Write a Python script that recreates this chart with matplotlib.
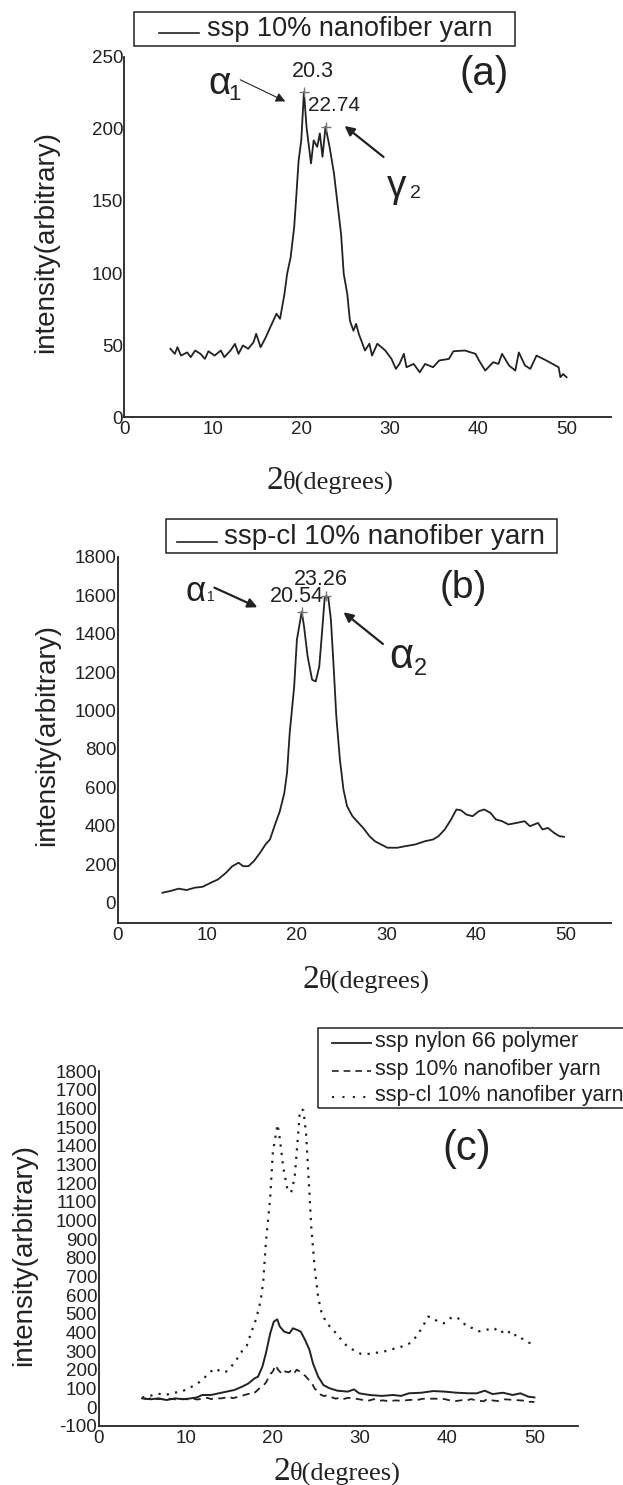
import numpy as np
import matplotlib.pyplot as plt
from matplotlib.lines import Line2D
from matplotlib.patches import Rectangle

plt.rcParams['font.family'] = ['Liberation Sans', 'DejaVu Sans']
plt.rcParams['axes.unicode_minus'] = False

# --- data ---
# (a) ssp 10% nanofiber yarn
a_x = [5.2, 5.7, 6.0, 6.4, 7.1, 7.5, 8.0, 8.6, 9.1, 9.5, 10.2, 10.9, 11.3, 12.0, 12.5,
       12.9, 13.4, 14.0, 14.6, 14.9, 15.4, 16.0, 16.5, 17.2, 17.6, 18.1, 18.4, 18.8,
       19.2, 19.4, 19.7, 20.0, 20.3, 20.6, 21.1, 21.4, 21.8, 22.1, 22.4, 22.74, 23.2,
       23.7, 24.1, 24.5, 24.8, 25.2, 25.5, 25.9, 26.2, 26.5, 26.8, 27.2, 27.7, 28.0,
       28.6, 29.5, 30.2, 30.7, 31.1, 31.6, 31.9, 32.7, 33.4, 34.0, 34.9, 35.6, 36.7,
       37.2, 38.5, 39.7, 40.1, 40.8, 41.7, 42.3, 42.7, 43.5, 44.2, 44.6, 45.3, 45.9,
       46.6, 47.7, 49.1, 49.3, 49.6, 50.0]
a_y = [47.5, 44, 48.6, 42.8, 45, 41.7, 46.3, 44, 40.5, 45.8, 42.8, 46.3, 41.7, 46.3, 50.9,
       44, 49.8, 47.5, 52, 57.9, 48.6, 55.6, 62.5, 71.8, 68.3, 85.6, 99.5, 111,
       132, 150, 178, 192, 225.5, 201, 176, 192, 187.5, 196.8, 180.6, 201.5, 187.5,
       169, 148, 127, 99.5, 85.6, 67, 60, 64.8, 57.9, 53, 46.3, 51, 42.8,
       51, 46.3, 40.5, 33.6, 37, 44, 34.7, 37, 31.2, 37, 34.7, 39.4, 40.5,
       45.8, 46.3, 44, 39.4, 32.4, 38.2, 37, 44, 35.9, 32.4, 45, 35.9, 33.6,
       42.8, 39.4, 34.7, 27.8, 30, 27.8]

# (b) ssp-cl 10% nanofiber yarn
b_x = [5.0, 5.9, 6.8, 7.7, 8.6, 9.5, 10.4, 11.2, 12.1, 12.8, 13.5, 14.0, 14.6, 15.2, 15.9,
       16.5, 17.0, 17.5, 18.1, 18.6, 18.9, 19.2, 19.7, 20.0, 20.54, 20.8, 21.2, 21.7,
       22.1, 22.5, 22.8, 23.1, 23.26, 23.5, 23.8, 24.1, 24.4, 24.8, 25.2, 25.6, 26.2,
       26.7, 27.4, 28.1, 28.7, 29.4, 30.1, 31.2, 32.1, 33.2, 34.3, 35.2, 35.8, 36.5,
       37.2, 37.8, 38.3, 38.9, 39.6, 40.3, 40.9, 41.6, 42.2, 42.9, 43.6, 44.5, 45.4,
       46.0, 46.9, 47.4, 48.0, 48.7, 49.3, 49.8]
b_y = [52, 61, 73, 66, 78, 83, 104, 121, 156, 190, 208, 190, 190, 216, 260,
       303, 329, 398, 476, 571, 675, 883, 1125, 1367, 1514, 1437, 1281, 1160,
       1151, 1229, 1402, 1584, 1595, 1590, 1471, 1229, 969, 744, 588, 502, 450,
       424, 389, 346, 320, 303, 286, 286, 294, 303, 320, 329, 346, 381,
       433, 485, 481, 459, 450, 476, 485, 467, 433, 424, 407, 415, 424,
       398, 415, 381, 389, 363, 346, 343]

# (c) ssp nylon 66 polymer
c_x = [5.0, 6.0, 6.9, 7.8, 8.8, 9.7, 10.6, 11.3, 11.9, 12.9, 13.8, 14.7, 15.6, 16.5, 17.2,
       17.9, 18.3, 18.8, 19.2, 19.7, 20.1, 20.5, 20.8, 21.3, 21.9, 22.3, 22.8, 23.2,
       23.7, 24.2, 24.6, 25.2, 25.8, 26.5, 27.4, 28.6, 29.3, 29.9, 31.1, 32.5, 33.8,
       34.7, 35.6, 37.0, 38.4, 39.7, 41.1, 42.5, 43.4, 44.3, 45.2, 46.4, 47.5, 48.4,
       49.3, 50.0]
c_y = [48, 43, 48, 39, 48, 43, 48, 53, 66, 66, 75, 84, 93, 111, 128,
       155, 164, 218, 289, 396, 458, 471, 432, 405, 396, 423, 414, 405,
       360, 307, 235, 164, 119, 102, 89, 84, 96, 75, 66, 61, 66,
       61, 75, 78, 87, 84, 78, 75, 75, 89, 71, 78, 66, 75,
       57, 53]

label_a = 'ssp 10% nanofiber yarn'
label_b = 'ssp-cl 10% nanofiber yarn'
label_c = 'ssp nylon 66 polymer'

a_peaks_x, a_peaks_y = [20.3, 22.74], [225.5, 201.5]
b_peaks_x, b_peaks_y = [20.54, 23.26], [1514, 1595]

ink = '#222222'
W, H = 623, 1485
fig = plt.figure(figsize=(W / 100, H / 100), dpi=100)


def fx(px):
    return px / W


def fy(py):
    return 1 - py / H


def make_axes(l, r, t, b, ylim, yticks):
    ax = fig.add_axes([fx(l), fy(b), (r - l) / W, (b - t) / H])
    ax.set_xlim(0, 55)
    ax.set_ylim(*ylim)
    ax.set_xticks(range(0, 51, 10))
    ax.set_yticks(yticks)
    for s in ['top', 'right']:
        ax.spines[s].set_visible(False)
    for s in ['left', 'bottom']:
        ax.spines[s].set_linewidth(1.3)
        ax.spines[s].set_color(ink)
    ax.tick_params(length=0, labelsize=13.5, colors=ink)
    ax.tick_params(axis='y', pad=1)
    ax.tick_params(axis='x', pad=3)
    return ax


def ylabel(cx, cy):
    fig.text(fx(cx), fy(cy), 'intensity(arbitrary)', rotation=90, fontsize=20,
             ha='center', va='center', color=ink)


def xlabel(cx, base):
    split = cx - 47
    fig.text(fx(split), fy(base), '2', fontsize=24, family='Liberation Serif',
             ha='right', va='baseline', color=ink)
    fig.text(fx(split), fy(base), 'θ(degrees)', fontsize=19, family='Liberation Serif',
             ha='left', va='baseline', color=ink)


def legend_box(x0, y0, x1, y1, rows, fs, hx0, hx1, tx):
    fig.add_artist(Rectangle((fx(x0), fy(y1)), (x1 - x0) / W, (y1 - y0) / H,
                             transform=fig.transFigure, fill=False, lw=1.1, ec=ink))
    for text, ls, lw, yh, yt in rows:
        fig.add_artist(Line2D([fx(hx0), fx(hx1)], [fy(yh), fy(yh)], ls=ls, lw=lw,
                              color=ink, transform=fig.transFigure))
        fig.text(fx(tx), fy(yt), text, fontsize=fs, ha='left', va='center', color=ink)


def arrow(ax, tail, head, lw):
    ax.annotate('', xy=head, xytext=tail,
                arrowprops=dict(arrowstyle='-|>', lw=lw, color=ink, mutation_scale=14,
                                shrinkA=0, shrinkB=0))


# ---------------- (a) ----------------
ax1 = make_axes(124.4, 610.8, 56.7, 417.3, (0, 250), range(0, 251, 50))
ax1.plot(a_x, a_y, color=ink, lw=1.3)
ax1.plot(a_peaks_x, a_peaks_y, '+', color='#777777', ms=7, mew=1)
ax1.text(21.3, 240, '20.3', fontsize=15.5, ha='center', va='center', color=ink)
ax1.text(23.7, 216, '22.74', fontsize=15, ha='center', va='center', color=ink)
ax1.text(10.75, 231, 'α', fontsize=28, ha='center', va='center', color=ink)
ax1.text(12.45, 224, '1', fontsize=16, ha='center', va='center', color=ink)
ax1.text(30.75, 160, 'γ', fontsize=28, ha='center', va='center', color=ink)
ax1.text(32.9, 155, '2', fontsize=14, ha='center', va='center', color=ink)
arrow(ax1, (13.1, 234), (18.2, 219), 0.8)
arrow(ax1, (29.3, 180.5), (24.9, 202), 1.6)
ax1.text(40.65, 238, '(a)', fontsize=29, ha='center', va='center', color=ink)
ylabel(46.5, 241.7)
xlabel(330, 489)
legend_box(134, 12.3, 514.5, 45.7, [(label_a, '-', 1.2, 33, 29)], 19.5, 159, 199, 206.6)

# ---------------- (b) ----------------
ax2 = make_axes(117.6, 610.6, 556.7, 922.7, (-104, 1800), range(0, 1801, 200))
ax2.plot(b_x, b_y, color=ink, lw=1.3)
ax2.plot(b_peaks_x, b_peaks_y, '+', color='#777777', ms=7, mew=1)
ax2.text(19.97, 1592, '20.54', fontsize=15.5, ha='center', va='center', color=ink)
ax2.text(22.67, 1679, '23.26', fontsize=15.5, ha='center', va='center', color=ink)
ax2.text(8.68, 1618, 'α', fontsize=25, ha='center', va='center', color=ink)
ax2.text(10.36, 1590, '1', fontsize=10, ha='center', va='center', color=ink)
ax2.text(31.7, 1277, 'α', fontsize=30, ha='center', va='center', color=ink)
ax2.text(33.75, 1215, '2', fontsize=17, ha='center', va='center', color=ink)
arrow(ax2, (10.8, 1639), (15.6, 1537), 1.6)
arrow(ax2, (29.6, 1346), (25.2, 1511), 1.6)
ax2.text(38.57, 1635, '(b)', fontsize=28, ha='center', va='center', color=ink)
ylabel(47, 735)
xlabel(366, 988)
legend_box(165.7, 519.3, 557.4, 553.3, [(label_b, '-', 1.2, 542.5, 537)], 20, 176.8, 216.5, 224.5)

# ---------------- (c) ----------------
dash = (0, (4, 3))
dot = (0, (1, 2.8))
ax3 = make_axes(98.5, 578, 1071, 1426, (-100, 1800), range(-100, 1801, 100))
ax3.plot(c_x, c_y, color=ink, lw=1.4)
ax3.plot(a_x, a_y, color=ink, lw=1.3, ls=dash)
ax3.plot(b_x, b_y, color=ink, lw=1.6, ls=dot)
ax3.text(42.25, 1383, '(c)', fontsize=30, ha='center', va='center', color=ink)
ylabel(24, 1255)
xlabel(337, 1480)
legend_box(318, 1028, 640, 1108,
           [(label_c, '-', 1.3, 1043.3, 1041),
            (label_a, dash, 1.2, 1071, 1069),
            (label_b, (0, (1, 4)), 1.5, 1096.7, 1095)],
           15.5, 331.7, 371.5, 375.4)

fig.savefig('out.png', dpi=100)
